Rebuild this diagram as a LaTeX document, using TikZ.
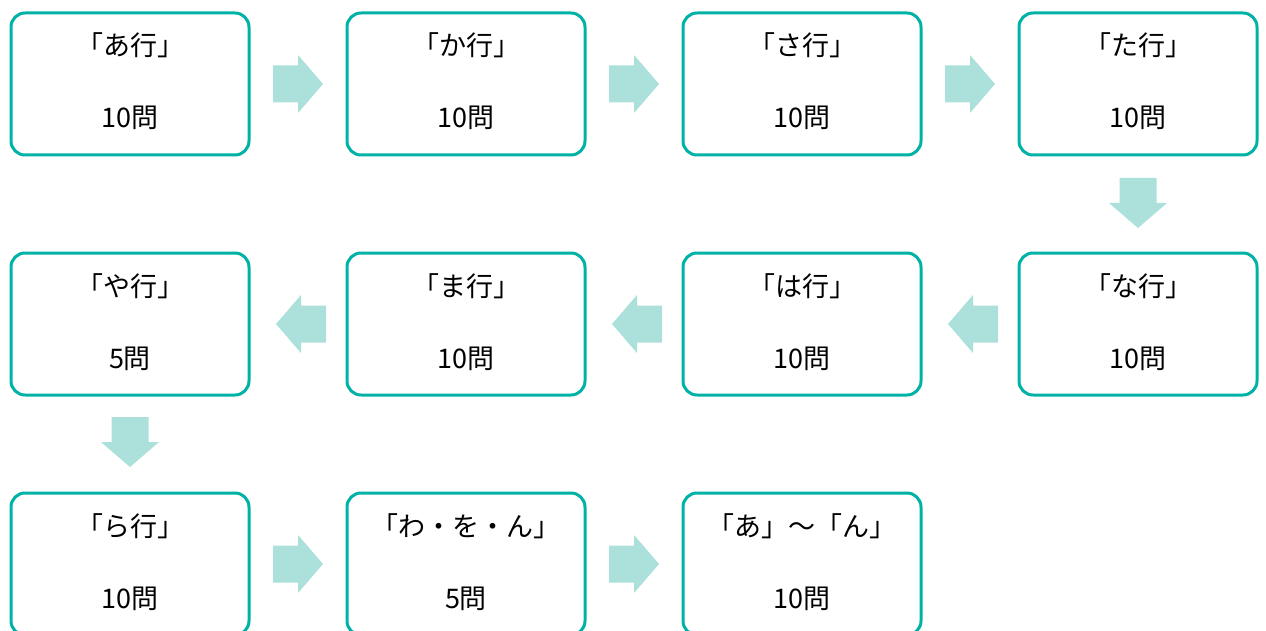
\documentclass[tikz,border=0pt]{standalone}
\usepackage{fontspec}
\setmainfont{Noto Sans CJK JP}
\usetikzlibrary{calc}
\definecolor{boxline}{HTML}{00B2A5}
\definecolor{arrowfill}{HTML}{ACE0DA}
\tikzset{
  stepbox/.style={draw=boxline, line width=3pt, rounded corners=14pt, fill=white,
    minimum width=238pt, minimum height=142pt, inner sep=0pt},
  titletext/.style={font=\fontsize{27}{30}\selectfont, inner sep=0pt, anchor=base},
  counttext/.style={font=\fontsize{27}{30}\selectfont, inner sep=0pt, anchor=base},
  blockarrow/.style={fill=arrowfill, draw=none},
}
\newcommand\fatarrow[2]{% #1 = centre coordinate name, #2 = rotation
  \fill[blockarrow, shift={(#1)}, rotate=#2]
    (-25,-18.5) -- (0,-18.5) -- (0,-29) -- (25,0) -- (0,29) -- (0,18.5) -- (-25,18.5) -- cycle;}
\begin{document}
\begin{tikzpicture}[x=1pt,y=-1pt]
\useasboundingbox (0,0) rectangle (1266,631);
% boxes
\node[stepbox] (a) at (130,84) {};
\node[stepbox] (ka) at (466,84) {};
\node[stepbox] (sa) at (802,84) {};
\node[stepbox] (ta) at (1138,84) {};
\node[stepbox] (na) at (1138,324) {};
\node[stepbox] (ha) at (802,324) {};
\node[stepbox] (ma) at (466,324) {};
\node[stepbox] (ya) at (130,324) {};
\node[stepbox] (ra) at (130,564) {};
\node[stepbox] (wa) at (466,564) {};
\node[stepbox] (all) at (802,564) {};
% texts
\foreach \n/\t/\c in {a/「あ行」/10問, ka/「か行」/10問, sa/「さ行」/10問, ta/「た行」/10問,
  na/「な行」/10問, ha/「は行」/10問, ma/「ま行」/10問, ya/「や行」/5問,
  ra/「ら行」/10問, wa/「わ・を・ん」/5問, all/「あ」～「ん」/10問}{
  \node[titletext] (\n-t) at ($(\n.center)+(0,-28)$) {\t};
  \node[counttext] (\n-c) at ($(\n.center)+(0,44)$) {\c};
}
% arrows
\coordinate (m1) at ($(a.east)!0.5!(ka.west)$);
\coordinate (m2) at ($(ka.east)!0.5!(sa.west)$);
\coordinate (m3) at ($(sa.east)!0.5!(ta.west)$);
\coordinate (m4) at ($(ta.south)!0.5!(na.north)+(0,-1)$);
\coordinate (m5) at ($(na.west)!0.5!(ha.east)+(3,0)$);
\coordinate (m6) at ($(ha.west)!0.5!(ma.east)+(3,0)$);
\coordinate (m7) at ($(ma.west)!0.5!(ya.east)+(3,0)$);
\coordinate (m8) at ($(ya.south)!0.5!(ra.north)+(0,-2)$);
\coordinate (m9) at ($(ra.east)!0.5!(wa.west)$);
\coordinate (m10) at ($(wa.east)!0.5!(all.west)$);
\fatarrow{m1}{0}
\fatarrow{m2}{0}
\fatarrow{m3}{0}
\fatarrow{m4}{-90}
\fatarrow{m5}{180}
\fatarrow{m6}{180}
\fatarrow{m7}{180}
\fatarrow{m8}{-90}
\fatarrow{m9}{0}
\fatarrow{m10}{0}
\end{tikzpicture}
\end{document}
